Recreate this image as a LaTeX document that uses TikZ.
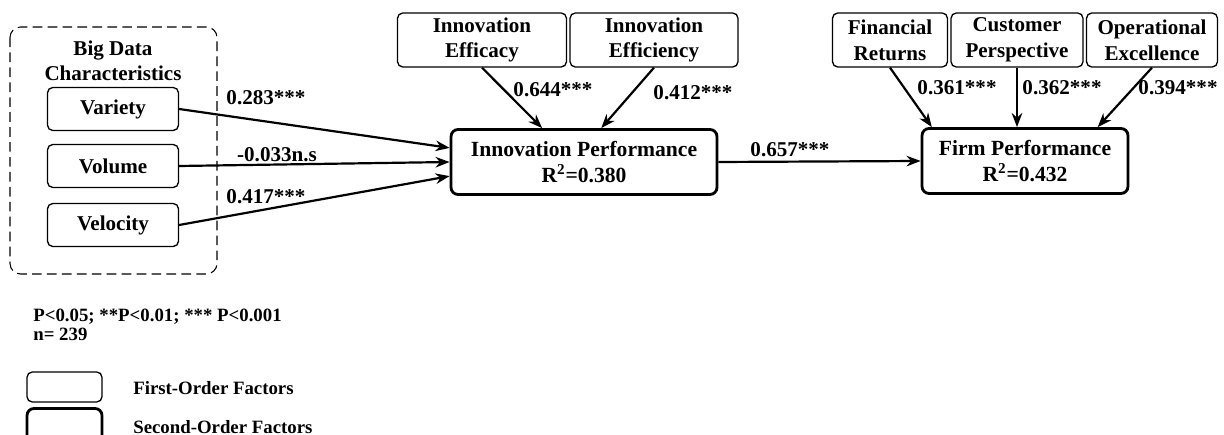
\documentclass[tikz,border=0pt]{standalone}
\usepackage{fontspec}
\setmainfont{Liberation Serif}
\usetikzlibrary{arrows.meta}

\begin{document}
\begin{tikzpicture}[x=0.02cm,y=-0.02cm,
 fo/.style={draw,rounded corners=3pt,line width=0.75pt,align=center,inner sep=1pt,font=\bfseries\fontsize{12}{14.6}\selectfont},
 so/.style={draw,rounded corners=4pt,line width=1.6pt,align=center,inner sep=1pt,minimum height=1.3cm,font=\bfseries\fontsize{12.3}{14.4}\selectfont},
 coef/.style={font=\bfseries\fontsize{12}{14.2}\selectfont},
 note/.style={anchor=west,inner sep=0pt,font=\bfseries\fontsize{10.7}{12}\selectfont},
 path/.style={->,line width=1.25pt},>={Stealth[length=8pt,width=6pt]}]
\clip (0,0) rectangle (1224,435);
% big data group
\draw[dashed,dash pattern=on 5.5pt off 3pt,line width=0.6pt,rounded corners=6pt] (10,27) rectangle (217,274);
\node[coef,align=center] (bdc) at (113,61) {Big Data\\Characteristics};
\node[fo,minimum width=2.62cm,minimum height=0.86cm] (var) at (113,109) {Variety};
\node[fo,minimum width=2.62cm,minimum height=0.86cm] (vol) at (113,166) {Volume};
\node[fo,minimum width=2.62cm,minimum height=0.86cm] (vel) at (113,225) {Velocity};
% second-order factors
\node[so,minimum width=5.32cm] (ip) at (584,162) {Innovation Performance\\R\textsuperscript{2}=0.380};
\node[so,minimum width=4.12cm] (fp) at (1025,161) {Firm Performance\\R\textsuperscript{2}=0.432};
% first-order factors
\node[fo,minimum width=3.38cm,minimum height=1.08cm] (eca) at (482,40) {Innovation\\Efficacy};
\node[fo,minimum width=3.36cm,minimum height=1.08cm] (eci) at (654,40) {Innovation\\Efficiency};
\node[fo,minimum width=2.3cm,minimum height=1.08cm] (fin) at (890,40) {Financial\\Returns};
\node[fo,minimum width=2.64cm,minimum height=1.08cm] (cus) at (1017,40) {Customer\\Perspective};
\node[fo,minimum width=2.62cm,minimum height=1.08cm] (ope) at (1152,40) {Operational\\Excellence};
% paths
\draw[path] (var.east) -- (ip.174);
\draw[path] (vol.east) -- (ip.west);
\draw[path] (vel.east) -- (ip.186);
\draw[path] (eca.south) -- (ip.141);
\draw[path] (eci.south) -- (ip.63);
\draw[path] (ip.east) -- (fp.west);
\draw[path] (fin.south) -- (fp.160);
\draw[path] (cus.south) -- (cus.south |- fp.north);
\draw[path] (ope.south) -- (fp.25);
% coefficients
\node[coef] at (266,98) {0.283***};
\node[coef] at (277,155) {-0.033n.s};
\node[coef] at (266,197) {0.417***};
\node[coef] at (553,90) {0.644***};
\node[coef] at (693,93) {0.412***};
\node[coef] at (790,150) {0.657***};
\node[coef] at (957,88) {0.361***};
\node[coef] at (1062,88) {0.362***};
\node[coef] at (1178,88) {0.394***};
% legend
\node[note] (sig) at (33,317) {P<0.05; **P<0.01; *** P<0.001};
\node[note] (n) at (33,334) {n= 239};
\node[draw,rounded corners=3pt,line width=0.75pt,minimum width=1.5cm,minimum height=0.6cm] (lfo) at (64.5,387) {};
\node[draw,rounded corners=4pt,line width=1.6pt,minimum width=1.5cm,minimum height=0.7cm] (lso) at (64.5,426) {};
\node[note] at (133,388) {First-Order Factors};
\node[note] at (133,427) {Second-Order Factors};
\end{tikzpicture}
\end{document}
